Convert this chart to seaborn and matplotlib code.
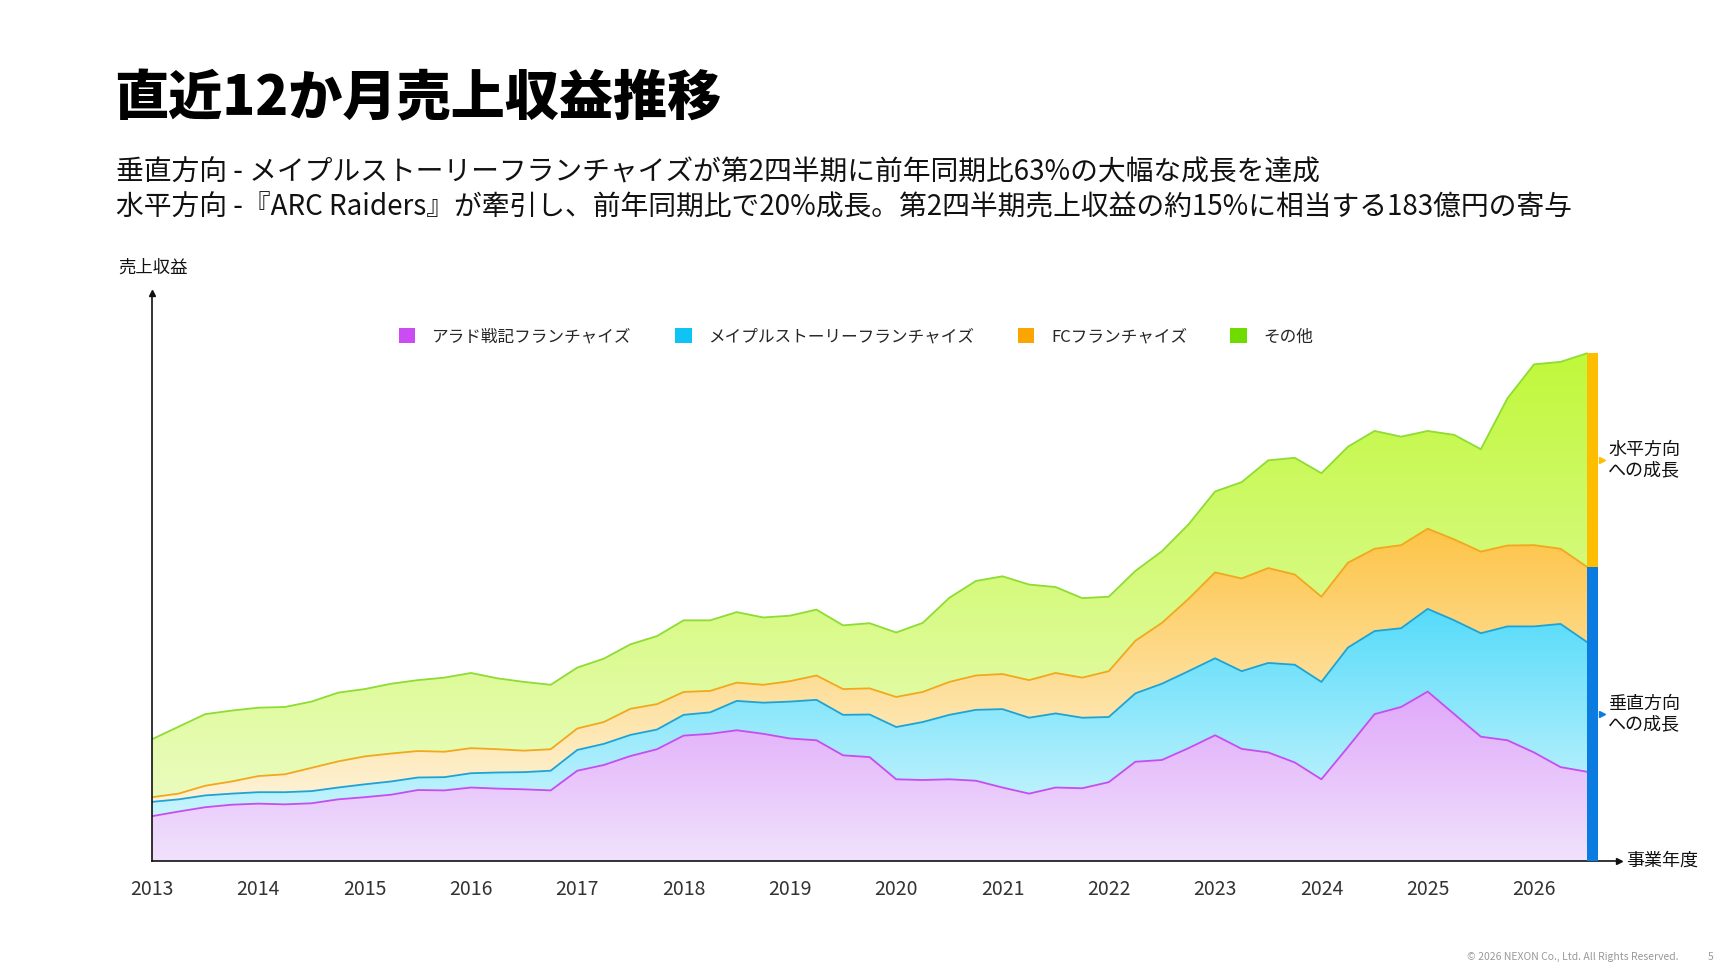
import numpy as np
import pandas as pd
import seaborn as sns
import matplotlib.pyplot as plt
from matplotlib.colors import LinearSegmentedColormap
from matplotlib.patches import Patch

sns.set_theme(style="white")
plt.rcParams['font.family'] = ['Noto Sans CJK JP', 'DejaVu Sans']

# quarterly, 2013.00 .. 2026.50 ; cumulative stacked tops (arbitrary units)
quarters = [2013 + k / 4 for k in range(55)]
top_total = [340,375,410,420,428,430,445,470,480,495,505,512,525,510,500,492,540,565,605,628,672,672,
             695,680,685,702,658,664,638,665,735,782,795,772,765,734,738,810,865,940,
             1032,1058,1119,1126,1083,1157,1201,1185,1201,1190,1150,1292,1387,1394,1418]
top_fc = [178,188,210,222,237,242,260,278,292,300,307,305,315,312,308,312,370,388,425,438,472,475,
          498,492,502,518,480,482,458,472,500,518,522,505,525,512,530,615,665,732,
          806,789,818,800,738,833,872,882,928,898,864,881,882,872,821]
top_maple = [165,172,183,188,192,192,195,205,214,222,233,234,245,247,248,252,310,327,352,367,408,415,
             447,442,445,450,408,409,374,388,408,422,424,400,412,400,402,468,495,530,
             566,530,553,548,500,596,642,650,704,672,636,655,655,662,611]
top_arad = [125,138,150,157,160,158,161,172,178,185,198,197,205,202,200,197,252,268,293,312,350,355,
            365,355,342,337,295,290,228,226,228,224,205,188,205,203,220,277,282,315,
            351,313,303,275,228,318,410,430,473,410,347,337,303,262,249]

series_names = ["アラド戦記フランチャイズ", "メイプルストーリーフランチャイズ", "FCフランチャイズ", "その他"]
year_ticks = list(range(2013, 2027))

df = pd.DataFrame({"q": quarters, "arad": top_arad, "maple": top_maple, "fc": top_fc, "total": top_total})

fig = plt.figure(figsize=(17.34, 9.75), dpi=100)
ax = fig.add_axes([0.0877, 0.117, 0.846, 0.582])
xmax = 2026.80
ymax = 1585
ax.set_xlim(2013, xmax)
ax.set_ylim(0, ymax)

layers = [
    (np.zeros(len(df)), df["arad"].values, "#E0A8FA", "#F0E2FC", "#C64DF0"),
    (df["arad"].values, df["maple"].values, "#55DBFA", "#C8F4FD", "#1FA3D4"),
    (df["maple"].values, df["fc"].values, "#FDC447", "#FEF3D8", "#F2A81D"),
    (df["fc"].values, df["total"].values, "#C0F83A", "#EAFCBE", "#8EDC34"),
]
x = df["q"].values
for lo, hi, ctop, cbot, cedge in layers:
    poly = ax.fill_between(x, lo, hi, color="none", lw=0)
    y0, y1 = lo.min(), hi.max()
    cmap = LinearSegmentedColormap.from_list("g", [cbot, ctop])
    grad = np.linspace(0, 1, 256).reshape(-1, 1)
    im = ax.imshow(grad, cmap=cmap, aspect="auto", origin="lower",
                   extent=[x[0], x[-1], y0, y1], zorder=1)
    im.set_clip_path(poly.get_paths()[0], transform=ax.transData)
    sns.lineplot(x=x, y=hi, ax=ax, color=cedge, lw=1.3, zorder=2)
ax.set_xlim(2013, xmax)
ax.set_ylim(0, ymax)

# growth bar on right
bw = 0.105
ax.fill_between([2026.5, 2026.5 + bw], 0, top_fc[-1], color="#0A7BE0", lw=0, zorder=3)
ax.fill_between([2026.5, 2026.5 + bw], top_fc[-1], top_total[-1], color="#FDBE00", lw=0, zorder=3)
xm = 2026.5 + bw + 0.035
ax.plot([xm], [top_fc[-1] / 2], marker=">", color="#0A7BE0", ms=5, clip_on=False, zorder=3)
ax.plot([xm], [(top_fc[-1] + top_total[-1]) / 2], marker=">", color="#FDBE00", ms=5, clip_on=False, zorder=3)
ax.text(2026.5 + 0.2, (top_fc[-1] + top_total[-1]) / 2, "水平方向\nへの成長", fontsize=13, va="center", ha="left", color="#111", linespacing=1.15)
ax.text(2026.5 + 0.2, top_fc[-1] / 2, "垂直方向\nへの成長", fontsize=13, va="center", ha="left", color="#111", linespacing=1.15)

# axes styling
for s in ["top", "right"]:
    ax.spines[s].set_visible(False)
ax.spines["left"].set_color("#111")
ax.spines["bottom"].set_color("#111")
ax.spines["left"].set_linewidth(1.2)
ax.spines["bottom"].set_linewidth(1.2)
ax.plot([0], [1], marker="^", color="#111", ms=5, transform=ax.transAxes, clip_on=False)
ax.plot([1], [0], marker=">", color="#111", ms=5, transform=ax.transAxes, clip_on=False)
ax.text(1.005, 0, "事業年度", transform=ax.transAxes, fontsize=13, va="center", ha="left", color="#111")
ax.set_yticks([])
ax.set_xticks(year_ticks)
ax.set_xticklabels([str(y) for y in year_ticks], fontsize=14, color="#333")
ax.tick_params(axis="x", length=0, pad=13)
ax.set_xlabel("")
ax.set_ylabel("")

# legend
colors = ["#C94CF5", "#10C3F5", "#FAA500", "#6FDC00"]
handles = [Patch(facecolor=c, edgecolor="none") for c in colors]
ax.legend(handles, series_names, loc="upper center", bbox_to_anchor=(0.48, 0.965), ncol=4,
          frameon=False, fontsize=12, handlelength=1.0, handleheight=1.0, columnspacing=2.6, handletextpad=1.0)

fig.text(0.0658, 0.898, "直近12か月売上収益推移", fontsize=39, fontweight="black", va="center", ha="left", color="#000")
fig.text(0.067, 0.823, "垂直方向 - メイプルストーリーフランチャイズが第2四半期に前年同期比63%の大幅な成長を達成",
         fontsize=20, va="center", ha="left", color="#111")
fig.text(0.067, 0.787, "水平方向 -『ARC Raiders』が牽引し、前年同期比で20%成長。第2四半期売上収益の約15%に相当する183億円の寄与",
         fontsize=20, va="center", ha="left", color="#111")
fig.text(0.068, 0.725, "売上収益", fontsize=12.5, va="center", ha="left", color="#111")
fig.text(0.968, 0.018, "© 2026 NEXON Co., Ltd. All Rights Reserved.", fontsize=7.5, va="center", ha="right", color="#999")
fig.text(0.988, 0.018, "5", fontsize=7.5, va="center", ha="right", color="#999")

fig.savefig("out.png", dpi=100, facecolor="white")
